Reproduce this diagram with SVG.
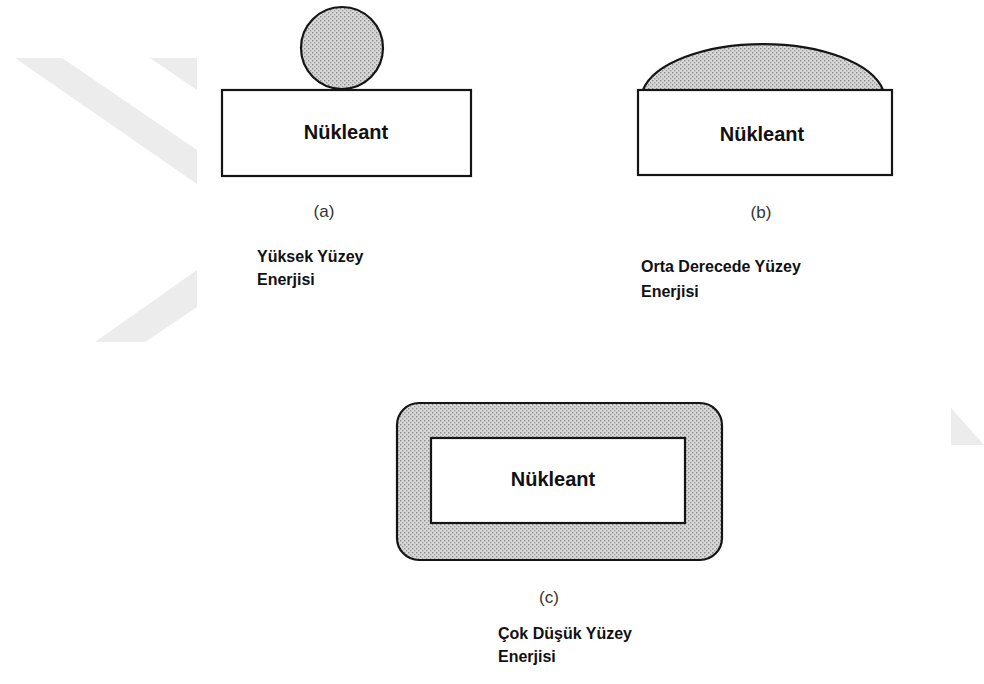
<svg xmlns="http://www.w3.org/2000/svg" width="984" height="684" viewBox="0 0 984 684">
<defs>
<pattern id="stipple" width="4" height="4" patternUnits="userSpaceOnUse">
<rect width="4" height="4" fill="#d8d8d8"/>
<rect x="0" y="0" width="1.4" height="1.4" fill="#8c8c8c"/>
<rect x="2" y="2" width="1.4" height="1.4" fill="#9e9e9e"/>
</pattern>
<style>
.wm{fill:#ececec}
.shape{stroke:#151515;stroke-width:2.2}
.nuk{font-family:"Liberation Sans",Arial,sans-serif;font-weight:bold;font-size:20px;fill:#111;text-anchor:middle}
.lab{font-family:"Liberation Sans",Arial,sans-serif;font-weight:bold;font-size:16px;fill:#111}
.tag{font-family:"Liberation Sans",Arial,sans-serif;font-size:17px;fill:#333;text-anchor:middle}
</style>
</defs>
<rect width="984" height="684" fill="#ffffff"/>
<g id="watermark">
<polygon class="wm" points="15,58 62,58 197,150 197,184"/>
<polygon class="wm" points="150,58 197,58 197,90"/>
<polygon class="wm" points="95,342 145,342 197,307 197,270"/>
<polygon class="wm" points="951,408 951,445 984,445"/>
</g>
<g id="node-a">
<circle class="shape" cx="342" cy="48" r="41" fill="url(#stipple)"/>
<rect class="shape" x="222" y="90" width="249" height="86" fill="#ffffff"/>
<text class="nuk" x="346" y="139">Nükleant</text>
<text class="tag" x="324" y="217">(a)</text>
<text class="lab" x="257" y="262">Yüksek Yüzey</text>
<text class="lab" x="257" y="285">Enerjisi</text>
</g>
<g id="node-b">
<path class="shape" d="M643,90 A122,56 0 0 1 883,90 Z" fill="url(#stipple)"/>
<rect class="shape" x="638" y="90" width="254" height="85" fill="#ffffff"/>
<text class="nuk" x="762" y="141">Nükleant</text>
<text class="tag" x="761" y="218">(b)</text>
<text class="lab" x="641" y="272">Orta Derecede Yüzey</text>
<text class="lab" x="641" y="297">Enerjisi</text>
</g>
<g id="node-c">
<rect class="shape" x="397" y="403" width="325" height="157" rx="22" ry="22" fill="url(#stipple)"/>
<rect class="shape" x="431" y="438" width="254" height="85" fill="#ffffff"/>
<text class="nuk" x="553" y="486">Nükleant</text>
<text class="tag" x="549" y="603">(c)</text>
<text class="lab" x="498" y="639">Çok Düşük Yüzey</text>
<text class="lab" x="498" y="662">Enerjisi</text>
</g>
<g id="connectors"></g>
</svg>
